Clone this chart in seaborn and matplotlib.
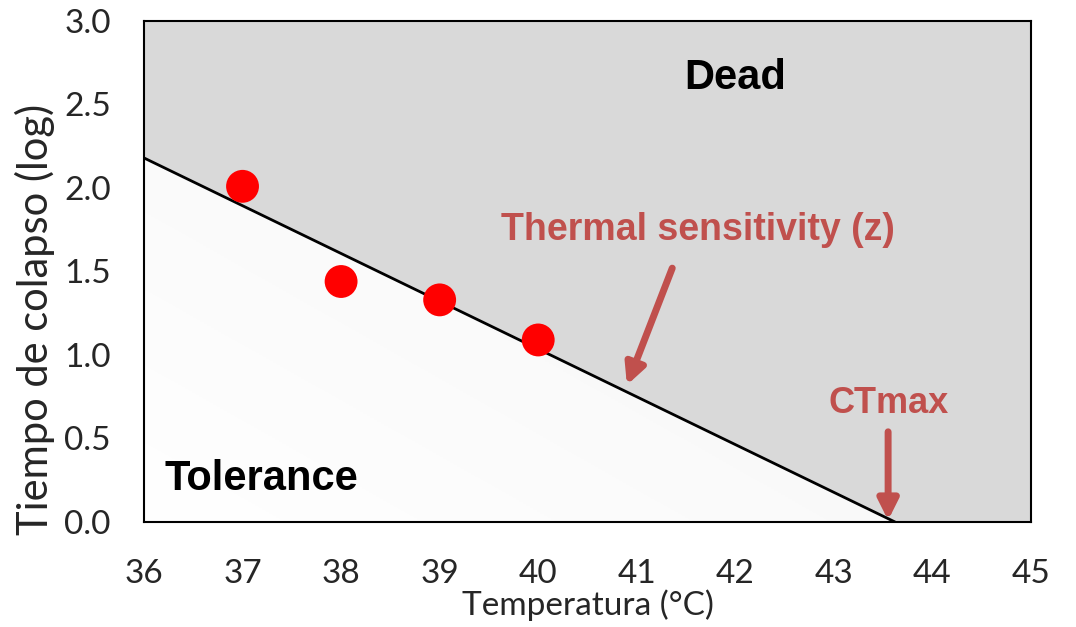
import numpy as np
import pandas as pd
import matplotlib
matplotlib.use("Agg")
import matplotlib.pyplot as plt
import seaborn as sns
from matplotlib.colors import LinearSegmentedColormap

# Data
temps = [37, 38, 39, 40]
log_time = [2.01, 1.44, 1.33, 1.09]
line_x = [36.0, 43.62]
line_y = [2.18, 0.0]
x_ticks = [36, 37, 38, 39, 40, 41, 42, 43, 44, 45]
y_ticks = [0.0, 0.5, 1.0, 1.5, 2.0, 2.5, 3.0]

sns.set_theme(style="white")
plt.rcParams['font.family'] = ['Lato', 'DejaVu Sans']

fig = plt.figure(figsize=(10.76, 6.27), dpi=100)
ax = fig.add_axes([0.1338, 0.1675, 0.8244, 0.799])
ax.set_xlim(36, 45)
ax.set_ylim(0, 3)
ax.set_facecolor('#d9d9d9')

# lower region with subtle gradient
poly = ax.fill_between(line_x, line_y, 0, color='none', lw=0)
grad = np.linspace(0, 1, 256).reshape(1, -1)
grad = (grad + np.linspace(0, 1, 256).reshape(-1, 1)[::-1]) / 2
cmap = LinearSegmentedColormap.from_list('g', ['#ffffff', '#f2f2f2'])
im = ax.imshow(grad, extent=[36, 45, 0, 3], aspect='auto', cmap=cmap,
               origin='upper', zorder=1)
im.set_clip_path(poly.get_paths()[0], transform=ax.transData)

line_df = pd.DataFrame({'x': line_x, 'y': line_y})
sns.lineplot(data=line_df, x='x', y='y', ax=ax, color='black', lw=2.0, zorder=3)

pts = pd.DataFrame({'Temperatura': temps, 'log': log_time})
sns.scatterplot(data=pts, x='Temperatura', y='log', ax=ax, color='#ff0000',
                s=560, edgecolor='none', zorder=4)

ax.set_xticks(x_ticks)
ax.set_yticks(y_ticks)
ax.set_xticklabels([str(v) for v in x_ticks], fontsize=24)
ax.set_yticklabels([f"{v:.1f}" for v in y_ticks], fontsize=24)
ax.tick_params(axis='x', direction='out', length=11, width=1.5, color='black', pad=16)
ax.tick_params(axis='y', length=0, pad=24)
for s in ax.spines.values():
    s.set_color('black')
    s.set_linewidth(1.5)
    s.set_visible(True)

ax.set_xlabel('Temperatura (°C)', fontsize=24, labelpad=0)
ax.set_ylabel('Tiempo de colapso (log)', fontsize=30)
ax.yaxis.set_label_coords(-0.100, 0.405)

red = '#c0504d'
ax.text(42.0, 2.66, 'Dead', fontsize=30, fontweight='bold', color='black',
        ha='center', va='center', family='Liberation Sans', zorder=5)
ax.text(37.19, 0.26, 'Tolerance', fontsize=30, fontweight='bold', color='black',
        ha='center', va='center', family='Liberation Sans', zorder=5)
ax.text(41.62, 1.75, 'Thermal sensitivity (z)', fontsize=27, fontweight='bold', color=red,
        ha='center', va='center', family='Liberation Sans', zorder=5)
ax.text(43.56, 0.71, 'CTmax', fontsize=26, fontweight='bold', color=red,
        ha='center', va='center', family='Liberation Sans', zorder=5)

ax.annotate('', xy=(40.9, 0.82), xytext=(41.36, 1.52),
            arrowprops=dict(arrowstyle='-|>,head_length=1.0,head_width=0.5',
                            color=red, lw=5.0, shrinkA=0, shrinkB=0), zorder=5)
ax.annotate('', xy=(43.55, 0.01), xytext=(43.55, 0.54),
            arrowprops=dict(arrowstyle='-|>,head_length=1.0,head_width=0.5',
                            color=red, lw=5.0, shrinkA=0, shrinkB=0), zorder=5)

fig.savefig('out.png', dpi=100)
